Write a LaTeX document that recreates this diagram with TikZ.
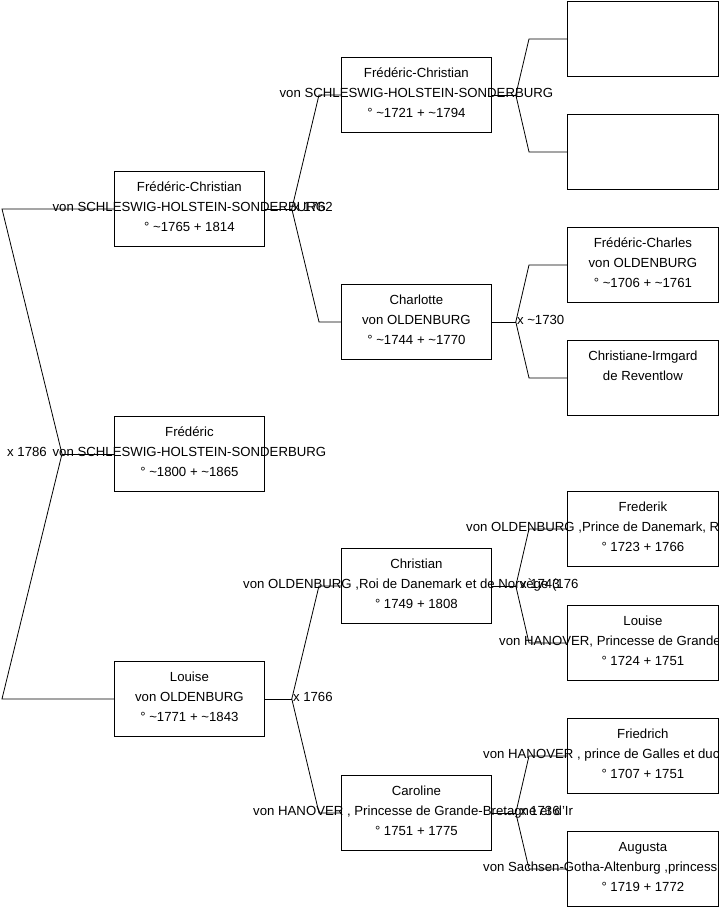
\documentclass[tikz,border=0pt]{standalone}
\usepackage{fontspec}
\setmainfont{Liberation Sans}
\newcommand{\fsz}{\fontsize{13.2}{15}\selectfont}
\newcommand{\pbox}[7]{%
  \node[pbox, minimum width=#4pt] (#1) at (#2,#3) {};
  \node[ptxt] (#1-1) at ([yshift=-20.5pt]#1.north) {#5};
  \node[ptxt] (#1-2) at ([yshift=-40.5pt]#1.north) {#6};
  \node[ptxt] (#1-3) at ([yshift=-60.5pt]#1.north) {#7};
}
\begin{document}
\begin{tikzpicture}[x=1pt,y=-1pt,
  pbox/.style={draw=black, line width=0.8pt, minimum width=150pt, minimum height=75pt, inner sep=0pt, anchor=north west},
  ptxt/.style={anchor=base, inner sep=0pt, font=\fsz},
  ltxt/.style={anchor=base west, inner sep=0pt, font=\fsz},
  mtxt/.style={inner sep=0pt, font=\fsz},
  conn/.style={draw=black, line width=0.8pt}]
\useasboundingbox (0,0) rectangle (719,908);
\clip (0,0) rectangle (719,908);

% generation 1
\pbox{r}{114}{416}{150}{Frédéric}{von SCHLESWIG-HOLSTEIN-SONDERBURG}{° \textasciitilde1800 + \textasciitilde1865}
% generation 2
\pbox{ga}{114}{171}{150}{Frédéric-Christian}{von SCHLESWIG-HOLSTEIN-SONDERBURG}{° \textasciitilde1765 + 1814}
\pbox{gb}{114}{661}{150}{Louise}{von OLDENBURG}{° \textasciitilde1771 + \textasciitilde1843}
% generation 3
\pbox{ha}{341}{57}{150}{Frédéric-Christian}{von SCHLESWIG-HOLSTEIN-SONDERBURG}{° \textasciitilde1721 + \textasciitilde1794}
\pbox{hb}{341}{284}{150}{Charlotte}{von OLDENBURG}{° \textasciitilde1744 + \textasciitilde1770}
\pbox{hc}{341}{548}{150}{Christian}{}{° 1749 + 1808}
\node[ltxt] (hc-w) at (243,588.5) {von OLDENBURG ,Roi de Danemark et de Norvège (176};
\pbox{hd}{341}{775}{150}{Caroline}{}{° 1751 + 1775}
\node[ltxt] (hd-w) at (253,815.5) {von HANOVER , Princesse de Grande-Bretagne et d'Ir};
% generation 4
\node[pbox, minimum width=151pt] (ka) at (567,1) {};
\node[pbox, minimum width=151pt] (kb) at (567,114) {};
\pbox{kc}{567}{227}{151}{Frédéric-Charles}{von OLDENBURG}{° \textasciitilde1706 + \textasciitilde1761}
\pbox{kd}{567}{340}{151}{Christiane-Irmgard}{de Reventlow}{}
\pbox{ke}{567}{491}{151}{Frederik}{}{° 1723 + 1766}
\node[ltxt] (ke-w) at (466,531.5) {von OLDENBURG ,Prince de Danemark, R};
\pbox{kf}{567}{605}{151}{Louise}{}{° 1724 + 1751}
\node[ltxt] (kf-w) at (499,645.5) {von HANOVER, Princesse de Grande};
\pbox{kg}{567}{718}{151}{Friedrich}{}{° 1707 + 1751}
\node[ltxt] (kg-w) at (483,758.5) {von HANOVER , prince de Galles et duc};
\pbox{kh}{567}{831}{151}{Augusta}{}{° 1719 + 1772}
\node[ltxt] (kh-w) at (483,871.5) {von Sachsen-Gotha-Altenburg ,princess};

% connectors gen1 -> gen2
\draw[conn] (r.west) -- ++(-52,0) coordinate (j0);
\draw[conn] (j0) -- ([xshift=-112pt]ga.west) -- (ga.west);
\draw[conn] (j0) -- ([xshift=-112pt]gb.west) -- (gb.west);
% gen2 -> gen3
\draw[conn] (ga.east) -- ++(27,0) coordinate (j1);
\draw[conn] (j1) -- ([xshift=-22pt]ha.west) -- (ha.west);
\draw[conn] (j1) -- ([xshift=-22pt]hb.west) -- (hb.west);
\draw[conn] (gb.east) -- ++(27,0) coordinate (j2);
\draw[conn] (j2) -- ([xshift=-22pt]hc.west) -- (hc.west);
\draw[conn] (j2) -- ([xshift=-22pt]hd.west) -- (hd.west);
% gen3 -> gen4
\draw[conn] (ha.east) -- ++(24,0) coordinate (j3);
\draw[conn] (j3) -- ([xshift=-38pt]ka.west) -- (ka.west);
\draw[conn] (j3) -- ([xshift=-38pt]kb.west) -- (kb.west);
\draw[conn] (hb.east) -- ++(24,0) coordinate (j4);
\draw[conn] (j4) -- ([xshift=-38pt]kc.west) -- (kc.west);
\draw[conn] (j4) -- ([xshift=-38pt]kd.west) -- (kd.west);
\draw[conn] (hc.east) -- ++(24,0) coordinate (j5);
\draw[conn] (j5) -- ([xshift=-38pt]ke.west) -- (ke.west);
\draw[conn] (j5) -- ([xshift=-38pt]kf.west) -- (kf.west);
\draw[conn] (hd.east) -- ++(24,0) coordinate (j6);
\draw[conn] (j6) -- ([xshift=-38pt]kg.west) -- (kg.west);
\draw[conn] (j6) -- ([xshift=-38pt]kh.west) -- (kh.west);

% marriage labels
\node[mtxt, anchor=east] (m0) at ([xshift=-15pt,yshift=1.5pt]j0) {x 1786};
\node[mtxt, anchor=west] (m1) at ([xshift=1pt,yshift=1.5pt]j1) {x 1762};
\node[mtxt, anchor=west] (m2) at ([xshift=1pt,yshift=1.5pt]j2) {x 1766};
\node[mtxt, anchor=west] (m3) at ([xshift=1pt,yshift=1.5pt]j4) {x \textasciitilde1730};
\node[mtxt, anchor=west] (m4) at ([xshift=4pt,yshift=1.5pt]j5) {x 1743};
\node[mtxt, anchor=west] (m5) at ([xshift=4pt,yshift=1.5pt]j6) {x 1736};
\end{tikzpicture}
\end{document}
